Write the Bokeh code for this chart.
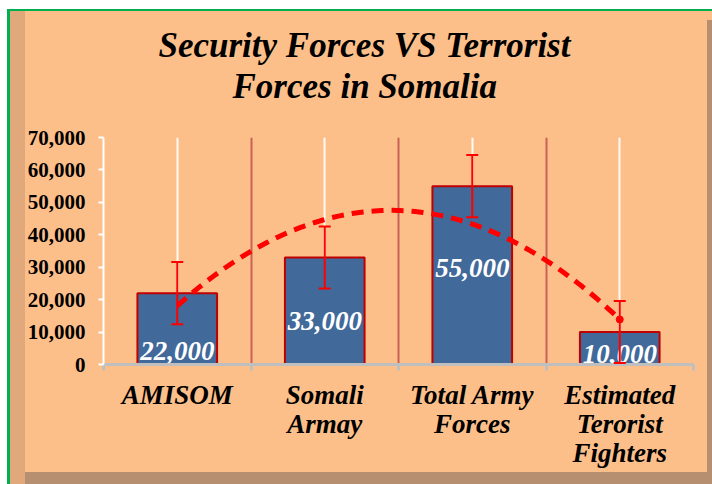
import numpy as np
from bokeh.plotting import figure
from bokeh.models import (Range1d, FixedTicker, NumeralTickFormatter, Grid, Whisker, TeeHead,
                          ColumnDataSource, Title)
from bokeh.core.properties import value
from bokeh.embed import file_html
from bokeh.resources import INLINE

# ---------------- data ----------------
title_lines = ["Security Forces VS Terrorist", "Forces in Somalia"]
categories = ["AMISOM", "Somali\nArmay", "Total Army\nForces", "Estimated\nTerorist\nFighters"]
troops = [22000, 33000, 55000, 10000]
bar_labels = ["22,000", "33,000", "55,000", "10,000"]
error_margin = [9570, 9570, 9570, 9570]
y_ticks = [0, 10000, 20000, 30000, 40000, 50000, 60000, 70000]
label_y = [4300, 13500, 29800, 3300]   # baselines of the value labels (data units)

# ---------------- style / layout ----------------
ORANGE = "#fdbf89"
BEVEL_L = "#e0a87b"
BEVEL_D = "#b58f70"
GREEN = "#00b050"
SERIF_NAME = "Liberation Serif"
SERIF = value(SERIF_NAME)

W, H = 712, 484
FL, FR, FT, FB = 103, 19, 137, 120

n = len(categories)
xs = np.arange(n) + 0.5

p = figure(width=W, height=H, output_backend="svg", toolbar_location=None,
           x_range=Range1d(0, n), y_range=Range1d(y_ticks[0], y_ticks[-1]),
           min_border_left=FL, min_border_right=FR, min_border_top=FT, min_border_bottom=FB,
           background_fill_color=ORANGE, border_fill_color=ORANGE, border_fill_alpha=0,
           outline_line_color=None)


def layer(color, pos, size):
    return f"linear-gradient({color},{color}) {pos} / {size} no-repeat"


p.styles = {
    "background": ", ".join([
        layer("#ffffff", "0 0", "7px 100%"),
        layer("#ffffff", "0 0", "100% 9px"),
        layer(GREEN, "7px 9px", "3px 100%"),
        layer(GREEN, "7px 9px", "100% 2px"),
        layer(BEVEL_D, "left 25px bottom 0px", "100% 12px"),
        layer(BEVEL_L, "10px 11px", "15px 100%"),
        layer(BEVEL_D, "right 0px top 20px", "5px 100%"),
        ORANGE,
    ]),
}

# title (two centred lines)
def make_title(text, offset, standoff):
    kw = dict(text=text, align="left", offset=offset,
              text_font=SERIF_NAME, text_font_style="bold italic", text_font_size="35px",
              text_color="black")
    try:
        return Title(standoff=standoff, **kw)
    except Exception:
        return Title(standoff=0, **kw)

t2 = make_title(title_lines[1], 129, 63)
t1 = make_title(title_lines[0], 55, -62)
p.title = None
p.above = [t2, t1]

# grids: red at category boundaries, white at category centres
p.ygrid.visible = False
p.xgrid.ticker = FixedTicker(ticks=list(range(1, n + 1)))
p.xgrid.grid_line_color = "#c0504d"
p.xgrid.grid_line_alpha = 0.85
p.xgrid.grid_line_width = 2
p.add_layout(Grid(dimension=0, ticker=FixedTicker(ticks=list(xs)),
                  grid_line_color="white", grid_line_width=2, grid_line_alpha=0.9))

# x axis: category names at centres, small ticks at category boundaries
xa = p.xaxis[0]
xa.ticker = FixedTicker(ticks=list(xs), minor_ticks=list(range(0, n + 1)))
xa.major_label_overrides = {float(x): c for x, c in zip(xs, categories)}
xa.axis_line_color = "#bfbfbf"
xa.axis_line_width = 3
xa.major_tick_line_color = None
xa.major_tick_out = 0
xa.major_tick_in = 0
xa.minor_tick_line_color = "#bfbfbf"
xa.minor_tick_line_width = 3
xa.minor_tick_out = 6
xa.minor_tick_in = 0
xa.major_label_standoff = 9
xa.major_label_text_font = SERIF_NAME
xa.major_label_text_font_style = "bold italic"
xa.major_label_text_font_size = "27px"
xa.major_label_text_color = "black"
xa.major_label_text_line_height = 0.98

ya = p.yaxis[0]
ya.ticker = FixedTicker(ticks=y_ticks)
ya.formatter = NumeralTickFormatter(format="0,0")
ya.axis_line_color = "white"
ya.axis_line_width = 2
ya.major_tick_line_color = "white"
ya.major_tick_line_width = 2
ya.major_tick_out = 5
ya.major_tick_in = 0
ya.minor_tick_line_color = None
ya.major_label_standoff = 13
ya.major_label_text_font = SERIF_NAME
ya.major_label_text_font_style = "bold"
ya.major_label_text_font_size = "21px"
ya.major_label_text_color = "black"

# bars
p.vbar(x=xs, top=troops, width=0.54, bottom=0,
       fill_color="#41699a", line_color="#c00000", line_width=2)

# value labels
p.text(x=xs, y=label_y, text=bar_labels, text_align="center", text_baseline="alphabetic",
       text_color="white", text_font=SERIF, text_font_style="bold italic", text_font_size="27px")

# error bars
esrc = ColumnDataSource(dict(x=xs,
                             upper=[v + e for v, e in zip(troops, error_margin)],
                             lower=[v - e for v, e in zip(troops, error_margin)]))
p.add_layout(Whisker(base="x", upper="upper", lower="lower", source=esrc, level="annotation",
                     line_color="red", line_width=2,
                     upper_head=TeeHead(size=12, line_color="red", line_width=2),
                     lower_head=TeeHead(size=12, line_color="red", line_width=2)))

# polynomial (order 2) trendline of the series
coef = np.polyfit(xs, troops, 2)
tx = np.linspace(xs[0], xs[-1], 120)
p.line(tx, np.polyval(coef, tx), line_color="red", line_width=5, line_dash="12 8")
p.scatter([xs[-1]], [np.polyval(coef, xs[-1])], size=7, color="red")

open("out.html", "w").write(file_html(p, INLINE))
